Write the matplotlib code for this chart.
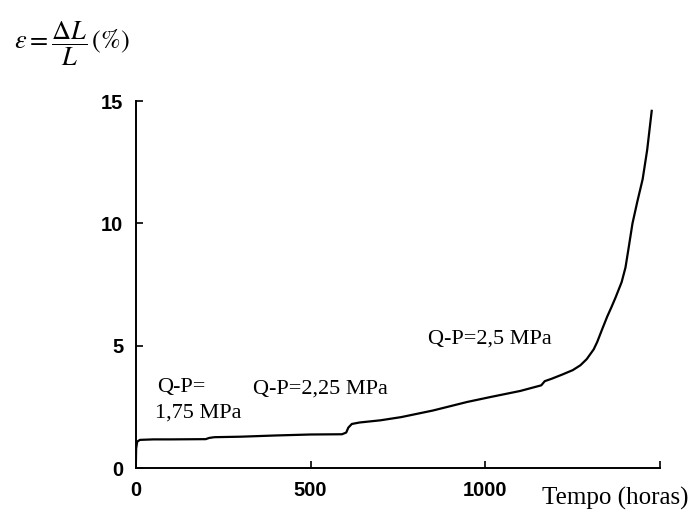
import matplotlib
matplotlib.use("Agg")
import matplotlib.pyplot as plt

plt.rcParams['mathtext.fontset'] = 'stix'

tempo = [0, 1, 4, 12, 50, 100, 200, 210, 225, 300, 400, 500, 590, 602, 608,
         618, 640, 700, 759, 850, 948, 1014, 1100, 1160, 1170, 1190, 1220,
         1250, 1272, 1290, 1310, 1320, 1335, 1349, 1360, 1372, 1390, 1401,
         1410, 1421, 1435, 1450, 1463, 1476]
deform = [0, 0.8, 1.08, 1.15, 1.17, 1.17, 1.18, 1.23, 1.26, 1.28, 1.33, 1.37,
          1.38, 1.45, 1.65, 1.8, 1.86, 1.95, 2.08, 2.35, 2.7, 2.9, 3.15, 3.38,
          3.55, 3.65, 3.82, 4.0, 4.2, 4.45, 4.85, 5.15, 5.7, 6.2, 6.55, 6.95,
          7.6, 8.2, 9.0, 10.0, 10.9, 11.8, 13.0, 14.6]

x_ticks = [0, 500, 1000, 1500]
x_tick_labels = ['0', '500', '1000', '']
y_ticks = [0, 5, 10, 15]
y_tick_labels = ['0', '5', '10', '15']

fig = plt.figure(figsize=(7, 5.13), dpi=100)
ax = fig.add_axes([0.194, 0.0877, 0.749, 0.7153])
ax.plot(tempo, deform, color='black', lw=1.6)
ax.set_xlim(0, 1500)
ax.set_ylim(0, 15)
for s in ['top', 'right']:
    ax.spines[s].set_visible(False)
for s in ['left', 'bottom']:
    ax.spines[s].set_linewidth(1.4)
ax.set_xticks(x_ticks)
ax.set_xticklabels(x_tick_labels)
ax.set_yticks(y_ticks)
ax.set_yticklabels(y_tick_labels)
ax.tick_params(direction='in', length=5, width=1.2, labelsize=14.5)
ax.tick_params(axis='x', pad=9)
ax.tick_params(axis='y', pad=9)
for lab in ax.get_xticklabels() + ax.get_yticklabels():
    lab.set_fontfamily('Liberation Sans')
    lab.set_fontweight('bold')

serif = 'Liberation Serif'
fs = 16
ax.text(60, 3.1, 'Q-P=', fontsize=fs, family=serif)
ax.text(55, 2.05, '1,75 MPa', fontsize=fs, family=serif)
ax.text(335, 3.05, 'Q-P=2,25 MPa', fontsize=fs, family=serif)
ax.text(835, 5.1, 'Q-P=2,5 MPa', fontsize=fs, family=serif)

fig.text(0.774, 0.016, 'Tempo (horas)', fontsize=18, family=serif)
fig.text(0.02, 0.914, r'$\varepsilon = \dfrac{\mathit{\Delta L}}{L}\,(\%)$',
         fontsize=19, va='center')

fig.savefig('out.png', dpi=100)
